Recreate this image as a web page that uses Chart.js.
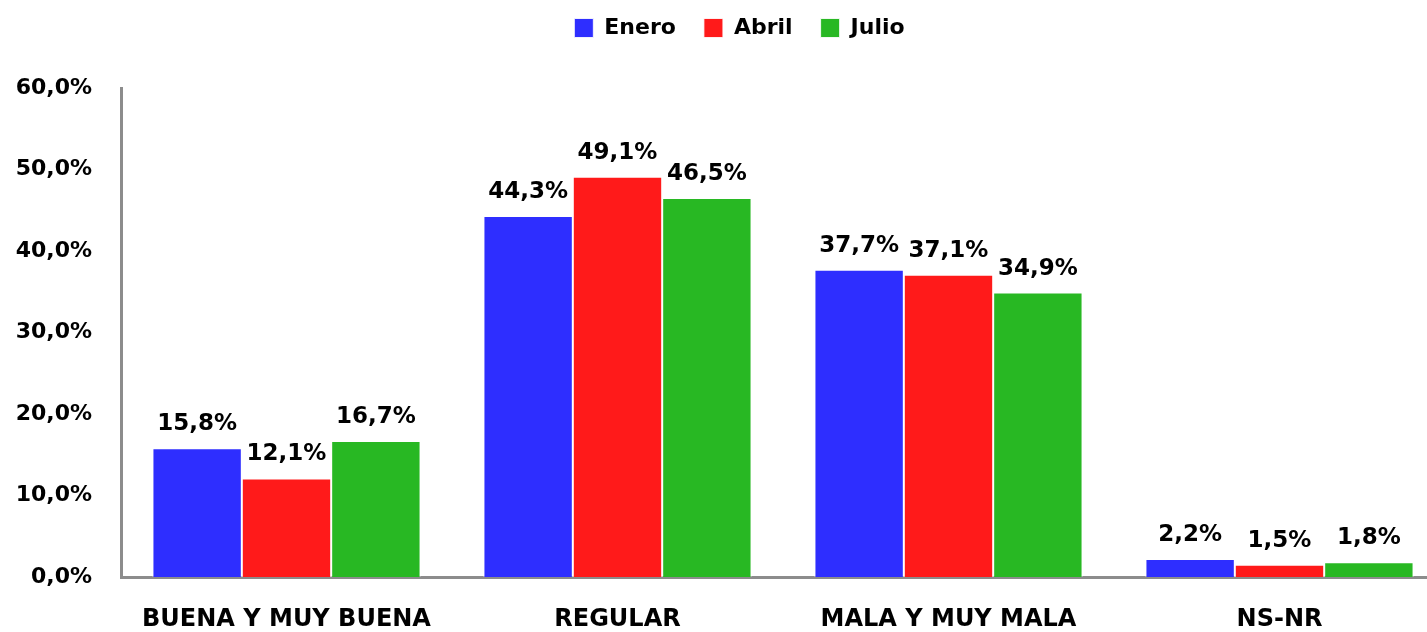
<!DOCTYPE html>
<html><head><meta charset="utf-8">
<script src="https://cdn.jsdelivr.net/npm/chart.js@4/dist/chart.umd.min.js"></script>
<style>
html,body{margin:0;padding:0;background:#fff;overflow:hidden;}
#wrap{position:absolute;left:0;top:0;width:1445px;height:632px;}
</style></head>
<body>
<div id="wrap"><canvas id="c" width="1445" height="632"></canvas></div>
<script>
const categories = ["BUENA Y MUY BUENA", "REGULAR", "MALA Y MUY MALA", "NS-NR"];
const seriesNames = ["Enero", "Abril", "Julio"];
const enero = [15.8, 44.3, 37.7, 2.2];
const abril = [12.1, 49.1, 37.1, 1.5];
const julio = [16.7, 46.5, 34.9, 1.8];
const yTicks = [0, 10, 20, 30, 40, 50, 60];
const colors = ["#2e2eff", "#ff1a1a", "#28b823"];

const fmt = v => v.toFixed(1).replace('.', ',') + '%';

const labelPlugin = {
  id: 'valueLabels',
  afterDatasetsDraw(chart) {
    const ctx = chart.ctx;
    ctx.save();
    ctx.font = 'bold 23px "DejaVu Sans"';
    ctx.fillStyle = '#000';
    ctx.textAlign = 'center';
    ctx.textBaseline = 'alphabetic';
    chart.data.datasets.forEach((ds, i) => {
      const meta = chart.getDatasetMeta(i);
      meta.data.forEach((el, j) => {
        ctx.fillText(fmt(ds.data[j]), el.x, el.y - 18);
      });
    });
    ctx.restore();
  }
};

const legendTweak = {
  id: 'legendTweak',
  beforeInit(chart) {
    const lg = chart.legend;
    if (!lg) return;
    const fit = lg.fit.bind(lg);
    lg.fit = function () { fit(); this.height = this.height + 28; };
    const draw = lg.draw.bind(lg);
    lg.draw = function () {
      const ctx = this.ctx;
      ctx.save();
      ctx.translate(17, -11);
      draw();
      ctx.restore();
    };
  }
};

new Chart(document.getElementById('c'), {
  type: 'bar',
  data: {
    labels: categories,
    datasets: [
      { label: seriesNames[0], data: enero, backgroundColor: colors[0] },
      { label: seriesNames[1], data: abril, backgroundColor: colors[1] },
      { label: seriesNames[2], data: julio, backgroundColor: colors[2] }
    ].map(d => Object.assign(d, { borderColor: 'rgba(255,255,255,0.85)', borderWidth: 1, barPercentage: 1, categoryPercentage: 0.81 }))
  },
  options: {
    responsive: false,
    animation: false,
    layout: { padding: { left: 0, right: 0, top: 0, bottom: 0 } },
    plugins: {
      legend: {
        position: 'top',
        labels: {
          boxWidth: 19, boxHeight: 19, padding: 28,
          color: '#000',
          font: { family: '"DejaVu Sans"', weight: 'bold', size: 22 }
        }
      },
      tooltip: { enabled: false }
    },
    scales: {
      x: {
        grid: { display: false },
        border: { display: true, color: '#8c8c8c', width: 3 },
        ticks: { color: '#000', padding: 20, font: { family: '"DejaVu Sans"', weight: 'bold', size: 24 } },
        afterFit: s => { s.height = 55; }
      },
      y: {
        min: 0, max: 60,
        afterBuildTicks: s => { s.ticks = yTicks.map(v => ({ value: v })); },
        grid: { display: false },
        border: { display: true, color: '#8c8c8c', width: 3 },
        ticks: { color: '#000', padding: 21, font: { family: '"DejaVu Sans"', weight: 'bold', size: 22 }, callback: v => fmt(v) },
        afterFit: s => { s.width = 121; }
      }
    }
  },
  plugins: [legendTweak, labelPlugin]
});
</script>
</body></html>
